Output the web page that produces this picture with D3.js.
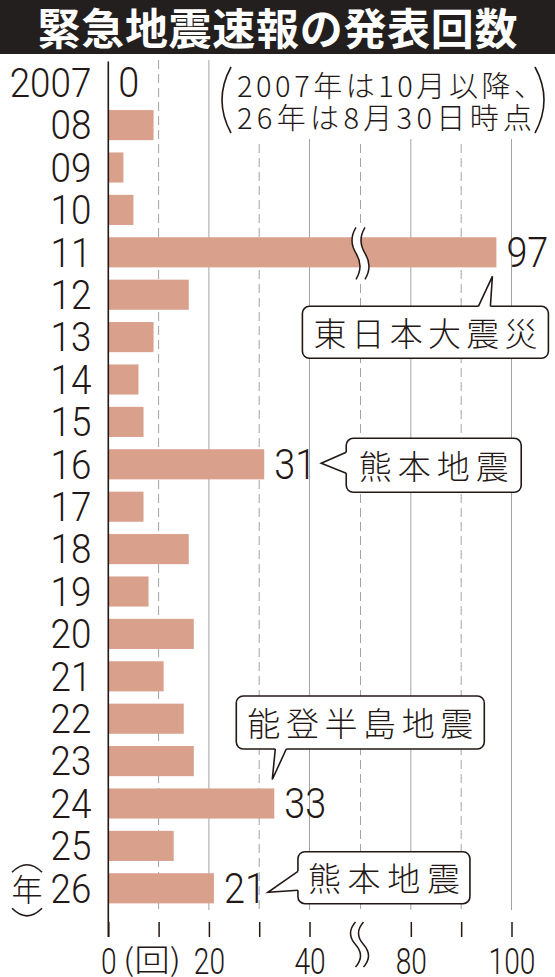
<!DOCTYPE html>
<html>
<head>
<meta charset="utf-8">
<script src="https://cdn.jsdelivr.net/npm/d3@7"></script>
<style>
  body { margin: 0; background: #fff; }
  svg { display: block; }
</style>
</head>
<body>
<div id="chart"></div>
<script>
// values
var years = ["2007", "08", "09", "10", "11", "12", "13", "14", "15", "16",
             "17", "18", "19", "20", "21", "22", "23", "24", "25", "26"];
var counts = [0, 9, 3, 5, 97, 16, 9, 6, 7, 31, 7, 16, 8, 17, 11, 15, 17, 33, 13, 21];
var labeledYears = ["2007", "11", "16", "24", "26"];

// x axis with a break between 40 and 70
var scaleDomain = [0, 40, 70, 100];
var breakValue = 70;
var gridValues = [10, 20, 30, 40, 70, 80, 90, 100];
var dashedValues = [10, 30, 70, 90];
var tickValues = [0, 10, 20, 30, 40, 80, 90, 100];
var tickLabels = [0, 20, 40, 80, 100];

var calloutYears = ["11", "16", "24", "26"];
var calloutTexts = ["東日本大震災", "熊本地震", "能登半島地震", "熊本地震"];

var title = "緊急地震速報の発表回数";
var noteLines = ["2007年は10月以降、", "26年は8月30日時点"];
var yearUnit = "年";
var countUnit = "(回)";

var W = 555, H = 977;
var ink = "#231815", barColor = "#d9a08b", gridColor = "#a3a3a3";
var numFont = "Roboto, 'Liberation Sans', Arial, sans-serif";
var jpFont = "'Noto Sans CJK JP', 'Noto Sans', sans-serif";

var svg = d3.select("#chart")
  .append("svg")
    .attr("width", W)
    .attr("height", H);

var x = d3.scaleLinear()
  .domain(scaleDomain)
  .range([108.3, 309.5, 360.5, 511.5]);

var y = d3.scaleBand()
  .domain(years)
  .range([61.5, 909.5])
  .paddingInner(0.29)
  .paddingOuter(0.145);

var rowCenter = function(d) { return y(d) + y.bandwidth() / 2; };

// title band
svg.append("rect")
  .attr("x", 0).attr("y", 0)
  .attr("width", W).attr("height", 54)
  .attr("fill", "#231f1e");
svg.append("text")
  .attr("x", W / 2).attr("y", 44.5)
  .attr("text-anchor", "middle")
  .attr("font-family", jpFont)
  .attr("font-weight", 700)
  .attr("font-size", 43)
  .attr("textLength", 480)
  .attr("lengthAdjust", "spacing")
  .attr("fill", "#fff")
  .text(title);

// grid
svg.selectAll(".grid")
  .data(gridValues)
  .enter().append("line")
    .attr("class", "grid")
    .attr("x1", function(d) { return x(d); })
    .attr("x2", function(d) { return x(d); })
    .attr("y1", 60)
    .attr("y2", 910)
    .attr("stroke", gridColor)
    .attr("stroke-width", 1)
    .attr("stroke-dasharray", function(d) { return dashedValues.indexOf(d) >= 0 ? "9,5" : null; });

// note (white box hides the grid behind it)
svg.append("rect")
  .attr("x", 216).attr("y", 57)
  .attr("width", W - 216).attr("height", 82)
  .attr("fill", "#fff");
var note = svg.append("g")
  .attr("font-family", jpFont)
  .attr("font-weight", 300)
  .attr("font-size", 29)
  .attr("fill", ink);
note.append("text")
  .attr("x", 237).attr("y", 97)
  .attr("textLength", 306)
  .attr("lengthAdjust", "spacing")
  .text(noteLines[0]);
note.append("text")
  .attr("x", 237).attr("y", 129)
  .attr("textLength", 295)
  .attr("lengthAdjust", "spacing")
  .text(noteLines[1]);
note.append("path")
  .attr("d", "M231,67 Q213,100 231,133")
  .attr("fill", "none").attr("stroke", ink).attr("stroke-width", 1.6);
note.append("path")
  .attr("d", "M535,67 Q553,100 535,133")
  .attr("fill", "none").attr("stroke", ink).attr("stroke-width", 1.6);

// bars
svg.selectAll(".bar")
  .data(years)
  .enter().append("rect")
    .attr("class", "bar")
    .attr("x", x(0))
    .attr("y", function(d) { return y(d); })
    .attr("width", function(d, i) { return x(counts[i]) - x(0); })
    .attr("height", y.bandwidth())
    .attr("fill", barColor);

// wavy break mark
function squiggle(cx, top, h, gap, amp) {
  var wave = function(dx) {
    return "M" + (cx + dx) + "," + top +
      " q" + (-amp) + "," + (h / 4) + " 0," + (h / 2) +
      " t0," + (h / 2);
  };
  var g = svg.append("g").attr("fill", "none");
  g.append("path").attr("d", wave(0)).attr("stroke", "#fff").attr("stroke-width", gap);
  g.append("path").attr("d", wave(-gap / 2 - 0.5)).attr("stroke", ink).attr("stroke-width", 1.5);
  g.append("path").attr("d", wave(gap / 2 + 0.5)).attr("stroke", ink).attr("stroke-width", 1.5);
}

var bigYear = years[counts.indexOf(d3.max(counts))];
squiggle(x(breakValue), rowCenter(bigYear) - 25, 52, 8, 8);

// y axis: year labels
var yAxis = svg.append("g")
  .attr("transform", "translate(" + x(0) + ",0)")
  .call(d3.axisLeft(y).tickSize(0).tickPadding(0));
yAxis.select(".domain").remove();
yAxis.selectAll("text")
  .attr("font-family", numFont)
  .attr("font-weight", 300)
  .attr("font-size", 40)
  .attr("fill", ink)
  .attr("dy", null)
  .attr("y", 14.3)
  .attr("x", -17 / 0.92)
  .attr("transform", "scale(0.92,1)");

svg.append("line")
  .attr("x1", x(0)).attr("x2", x(0))
  .attr("y1", 61.5).attr("y2", 937)
  .attr("stroke", ink)
  .attr("stroke-width", 1.6);

// x axis
var xAxis = svg.append("g")
  .attr("transform", "translate(0,922)")
  .call(d3.axisBottom(x)
    .tickValues(tickValues)
    .tickSize(15)
    .tickFormat(function(d) { return tickLabels.indexOf(d) >= 0 ? d : ""; }));
xAxis.select(".domain").remove();
xAxis.selectAll("line")
  .attr("stroke", ink)
  .attr("stroke-width", 1.5);
xAxis.selectAll("text")
  .attr("font-family", numFont)
  .attr("font-weight", 300)
  .attr("font-size", 37)
  .attr("fill", ink)
  .attr("dy", null)
  .attr("y", 52)
  .attr("transform", "scale(0.76,1)");

squiggle(x(breakValue) - 1, 922, 45, 7, 10);

svg.append("text")
  .attr("x", 152).attr("y", 971)
  .attr("text-anchor", "middle")
  .attr("font-family", jpFont)
  .attr("font-weight", 300)
  .attr("font-size", 31)
  .attr("textLength", 58)
  .attr("lengthAdjust", "spacingAndGlyphs")
  .attr("fill", ink)
  .text(countUnit);

// (年) written vertically
var lastYear = years[years.length - 1];
svg.append("text")
  .attr("x", 27).attr("y", rowCenter(lastYear) + 13)
  .attr("text-anchor", "middle")
  .attr("font-family", jpFont)
  .attr("font-weight", 300)
  .attr("font-size", 31)
  .attr("fill", ink)
  .text(yearUnit);
svg.append("path")
  .attr("d", "M12," + (rowCenter(lastYear) - 16) + " q15,-15 30,0")
  .attr("fill", "none").attr("stroke", ink).attr("stroke-width", 1.6);
svg.append("path")
  .attr("d", "M12," + (rowCenter(lastYear) + 20) + " q15,15 30,0")
  .attr("fill", "none").attr("stroke", ink).attr("stroke-width", 1.6);

// value labels
svg.selectAll(".val")
  .data(labeledYears)
  .enter().append("text")
    .attr("class", "val")
    .attr("transform", function(d) {
      var v = counts[years.indexOf(d)];
      return "translate(" + (x(v) + 10) + "," + (rowCenter(d) + 14.5) + ") scale(0.9,1)";
    })
    .attr("font-family", numFont)
    .attr("font-weight", 300)
    .attr("font-size", 42)
    .attr("fill", ink)
    .text(function(d) { return counts[years.indexOf(d)]; });

// callouts, placed relative to the end of their bar
var calloutLayout = {
  "11": {box: [-194, 54, 246, 52], tip: [-4, 24], side: "top", base: [-18, -6], len: 224},
  "16": {box: [82, -26, 175, 54], tip: [57, -1], side: "left", base: [-12, 9], len: 150},
  "24": {box: [-38, -107.5, 248, 53], tip: [-2, -24], side: "bottom", base: [1, 12], len: 226},
  "26": {box: [84, -36.6, 172, 52], tip: [54, 4], side: "left", base: [-17, 2], len: 152}
};

calloutYears.forEach(function(yr, i) {
  var c = calloutLayout[yr];
  var bx = x(counts[years.indexOf(yr)]), cy = rowCenter(yr);
  var rx = bx + c.box[0], ry = cy + c.box[1], w = c.box[2], h = c.box[3];
  var tip = [bx + c.tip[0], cy + c.tip[1]];
  var b1, b2, inward;
  if (c.side === "top") {
    b1 = [bx + c.base[0], ry]; b2 = [bx + c.base[1], ry]; inward = [0, 2];
  } else if (c.side === "bottom") {
    b1 = [bx + c.base[0], ry + h]; b2 = [bx + c.base[1], ry + h]; inward = [0, -2];
  } else {
    b1 = [rx, cy + c.base[0]]; b2 = [rx, cy + c.base[1]]; inward = [2, 0];
  }
  var g = svg.append("g");
  g.append("rect")
    .attr("x", rx).attr("y", ry)
    .attr("width", w).attr("height", h)
    .attr("rx", 7)
    .attr("fill", "#fff")
    .attr("stroke", ink)
    .attr("stroke-width", 1.6);
  g.append("path")
    .attr("d", "M" + (b1[0] + inward[0]) + "," + (b1[1] + inward[1]) +
      "L" + b1 + "L" + tip + "L" + b2 +
      "L" + (b2[0] + inward[0]) + "," + (b2[1] + inward[1]) + "Z")
    .attr("fill", "#fff");
  g.append("path")
    .attr("d", "M" + b1 + "L" + tip + "L" + b2)
    .attr("fill", "none")
    .attr("stroke", ink)
    .attr("stroke-width", 1.6)
    .attr("stroke-linejoin", "miter");
  g.append("text")
    .attr("x", rx + w / 2)
    .attr("y", ry + h / 2 + 13.5)
    .attr("text-anchor", "middle")
    .attr("font-family", jpFont)
    .attr("font-weight", 300)
    .attr("font-size", 33)
    .attr("textLength", c.len)
    .attr("lengthAdjust", "spacing")
    .attr("fill", ink)
    .text(calloutTexts[i]);
});
</script>
</body>
</html>
